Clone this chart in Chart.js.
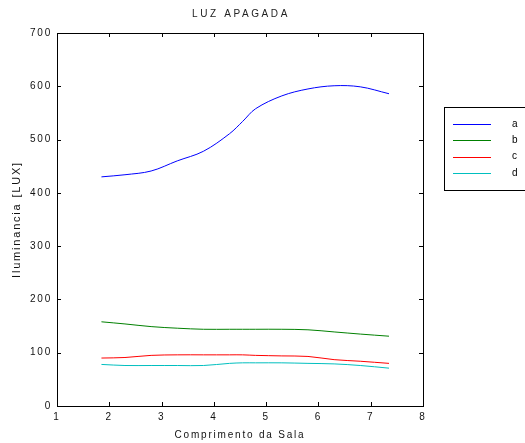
<!DOCTYPE html>
<html>
<head>
<meta charset="utf-8">
<script src="https://cdn.jsdelivr.net/npm/chart.js@4/dist/chart.umd.min.js"></script>
<style>
html,body{margin:0;padding:0;background:#fff;}
#wrap{width:525px;height:443px;position:relative;}
</style>
</head>
<body>
<div id="wrap"><canvas id="c" width="525" height="443"></canvas></div>
<script>
const chartTitle = "LUZ APAGADA";
const xTitle = "Comprimento da Sala";
const yTitle = "Iluminancia [LUX]";
const seriesNames = ["a", "b", "c", "d"];
const seriesColors = ["#0000ff", "#008000", "#ff0000", "#00bfbf"];
const xPositions = [1.85, 2.3, 2.8, 3.3, 3.8, 4.3, 4.55, 4.8, 5.3, 5.8, 6.3, 6.8, 7.35];
const seriesA = [430, 434, 441, 460, 478, 511, 534, 558, 582, 595, 601, 599, 586];
const seriesB = [158, 154, 149, 146, 144, 144, 144, 144, 144, 143, 139, 135, 131];
const seriesC = [90, 91, 95, 96, 96, 96, 96, 95, 94, 93, 87, 84, 80];
const seriesD = [78, 76, 76, 76, 76, 80, 81, 81, 81, 80, 79, 76, 71];
const xTicks = [1, 2, 3, 4, 5, 6, 7, 8];
const yTicks = [0, 100, 200, 300, 400, 500, 600, 700];

const allSeries = [seriesA, seriesB, seriesC, seriesD];
const datasets = allSeries.map((vals, i) => ({
  label: seriesNames[i],
  data: vals.map((v, j) => ({x: xPositions[j], y: v})),
  borderColor: seriesColors[i],
  backgroundColor: seriesColors[i],
  borderWidth: 1,
  pointRadius: 0,
  tension: 0.35,
  fill: false
}));

const FONT = "Arial, 'Liberation Sans', sans-serif";
const SPACING = '1.8px';

const spacing = {
  id: 'spacing',
  beforeUpdate(chart) { try { chart.ctx.letterSpacing = SPACING; } catch (e) {} },
  beforeLayout(chart) { try { chart.ctx.letterSpacing = SPACING; } catch (e) {} },
  beforeDraw(chart) { try { chart.ctx.letterSpacing = SPACING; } catch (e) {} }
};

const decor = {
  id: 'decor',
  afterDraw(chart) {
    const ctx = chart.ctx;
    const a = chart.chartArea;
    const xs = chart.scales.x, ys = chart.scales.y;
    ctx.save();
    // frame
    ctx.strokeStyle = '#000';
    ctx.lineWidth = 1;
    ctx.strokeRect(Math.round(a.left) + 0.5, Math.round(a.top) + 0.5,
                   Math.round(a.right - a.left), Math.round(a.bottom - a.top));
    // inward ticks
    const tl = 4;
    ctx.beginPath();
    xTicks.slice(1, -1).forEach(v => {
      const px = Math.round(xs.getPixelForValue(v)) + 0.5;
      ctx.moveTo(px, a.bottom); ctx.lineTo(px, a.bottom - tl);
      ctx.moveTo(px, a.top); ctx.lineTo(px, a.top + tl);
    });
    yTicks.slice(1, -1).forEach(v => {
      const py = Math.round(ys.getPixelForValue(v)) + 0.5;
      ctx.moveTo(a.left, py); ctx.lineTo(a.left + tl, py);
      ctx.moveTo(a.right, py); ctx.lineTo(a.right - tl, py);
    });
    ctx.stroke();
    // title
    ctx.fillStyle = '#222';
    ctx.font = "10px " + FONT;
    ctx.textAlign = 'center';
    ctx.textBaseline = 'middle';
    try { ctx.letterSpacing = '2.6px'; } catch (e) {}
    ctx.fillText(chartTitle, (a.left + a.right) / 2 + 1, 14);
    try { ctx.letterSpacing = SPACING; } catch (e) {}
    // legend box
    const lx = 444, ly = 107, lw = 85, lh = 83;
    ctx.fillStyle = '#fff';
    ctx.fillRect(lx, ly, lw, lh);
    ctx.strokeStyle = '#000';
    ctx.strokeRect(lx + 0.5, ly + 0.5, lw, lh);
    chart.data.datasets.forEach((ds, i) => {
      const yy = 124 + i * 16.3;
      ctx.strokeStyle = ds.borderColor;
      ctx.lineWidth = 1;
      ctx.beginPath();
      ctx.moveTo(453, Math.round(yy) + 0.5);
      ctx.lineTo(491, Math.round(yy) + 0.5);
      ctx.stroke();
      ctx.fillStyle = '#000';
      ctx.font = "10px " + FONT;
      ctx.textAlign = 'left';
      ctx.textBaseline = 'middle';
      ctx.fillText(ds.label, 512, yy);
    });
    ctx.restore();
  }
};

new Chart(document.getElementById('c'), {
  type: 'line',
  data: { datasets },
  options: {
    responsive: false,
    animation: false,
    layout: { padding: { left: 0, top: 33, right: 102, bottom: 0 } },
    plugins: { legend: { display: false }, tooltip: { enabled: false }, title: { display: false } },
    scales: {
      x: {
        type: 'linear',
        min: 1, max: 8,
        afterFit(s) { s.height = 37; },
        afterBuildTicks(s) { s.ticks = xTicks.map(v => ({value: v})); },
        grid: { display: false, drawTicks: false },
        border: { display: false },
        ticks: { color: '#111', padding: 5, font: { size: 10, family: FONT }, maxRotation: 0, autoSkip: false },
        title: { display: true, text: xTitle, color: '#111', padding: { top: 0, bottom: 2 }, font: { size: 10, family: FONT } }
      },
      y: {
        type: 'linear',
        min: 0, max: 700,
        afterFit(s) { s.width = 57; },
        afterBuildTicks(s) { s.ticks = yTicks.map(v => ({value: v})); },
        grid: { display: false, drawTicks: false },
        border: { display: false },
        ticks: { color: '#111', padding: 5, font: { size: 10, family: FONT } },
        title: { display: true, text: yTitle, color: '#111', padding: { top: 10, bottom: 0 }, font: { size: 11, family: FONT } }
      }
    }
  },
  plugins: [spacing, decor]
});
</script>
</body>
</html>
